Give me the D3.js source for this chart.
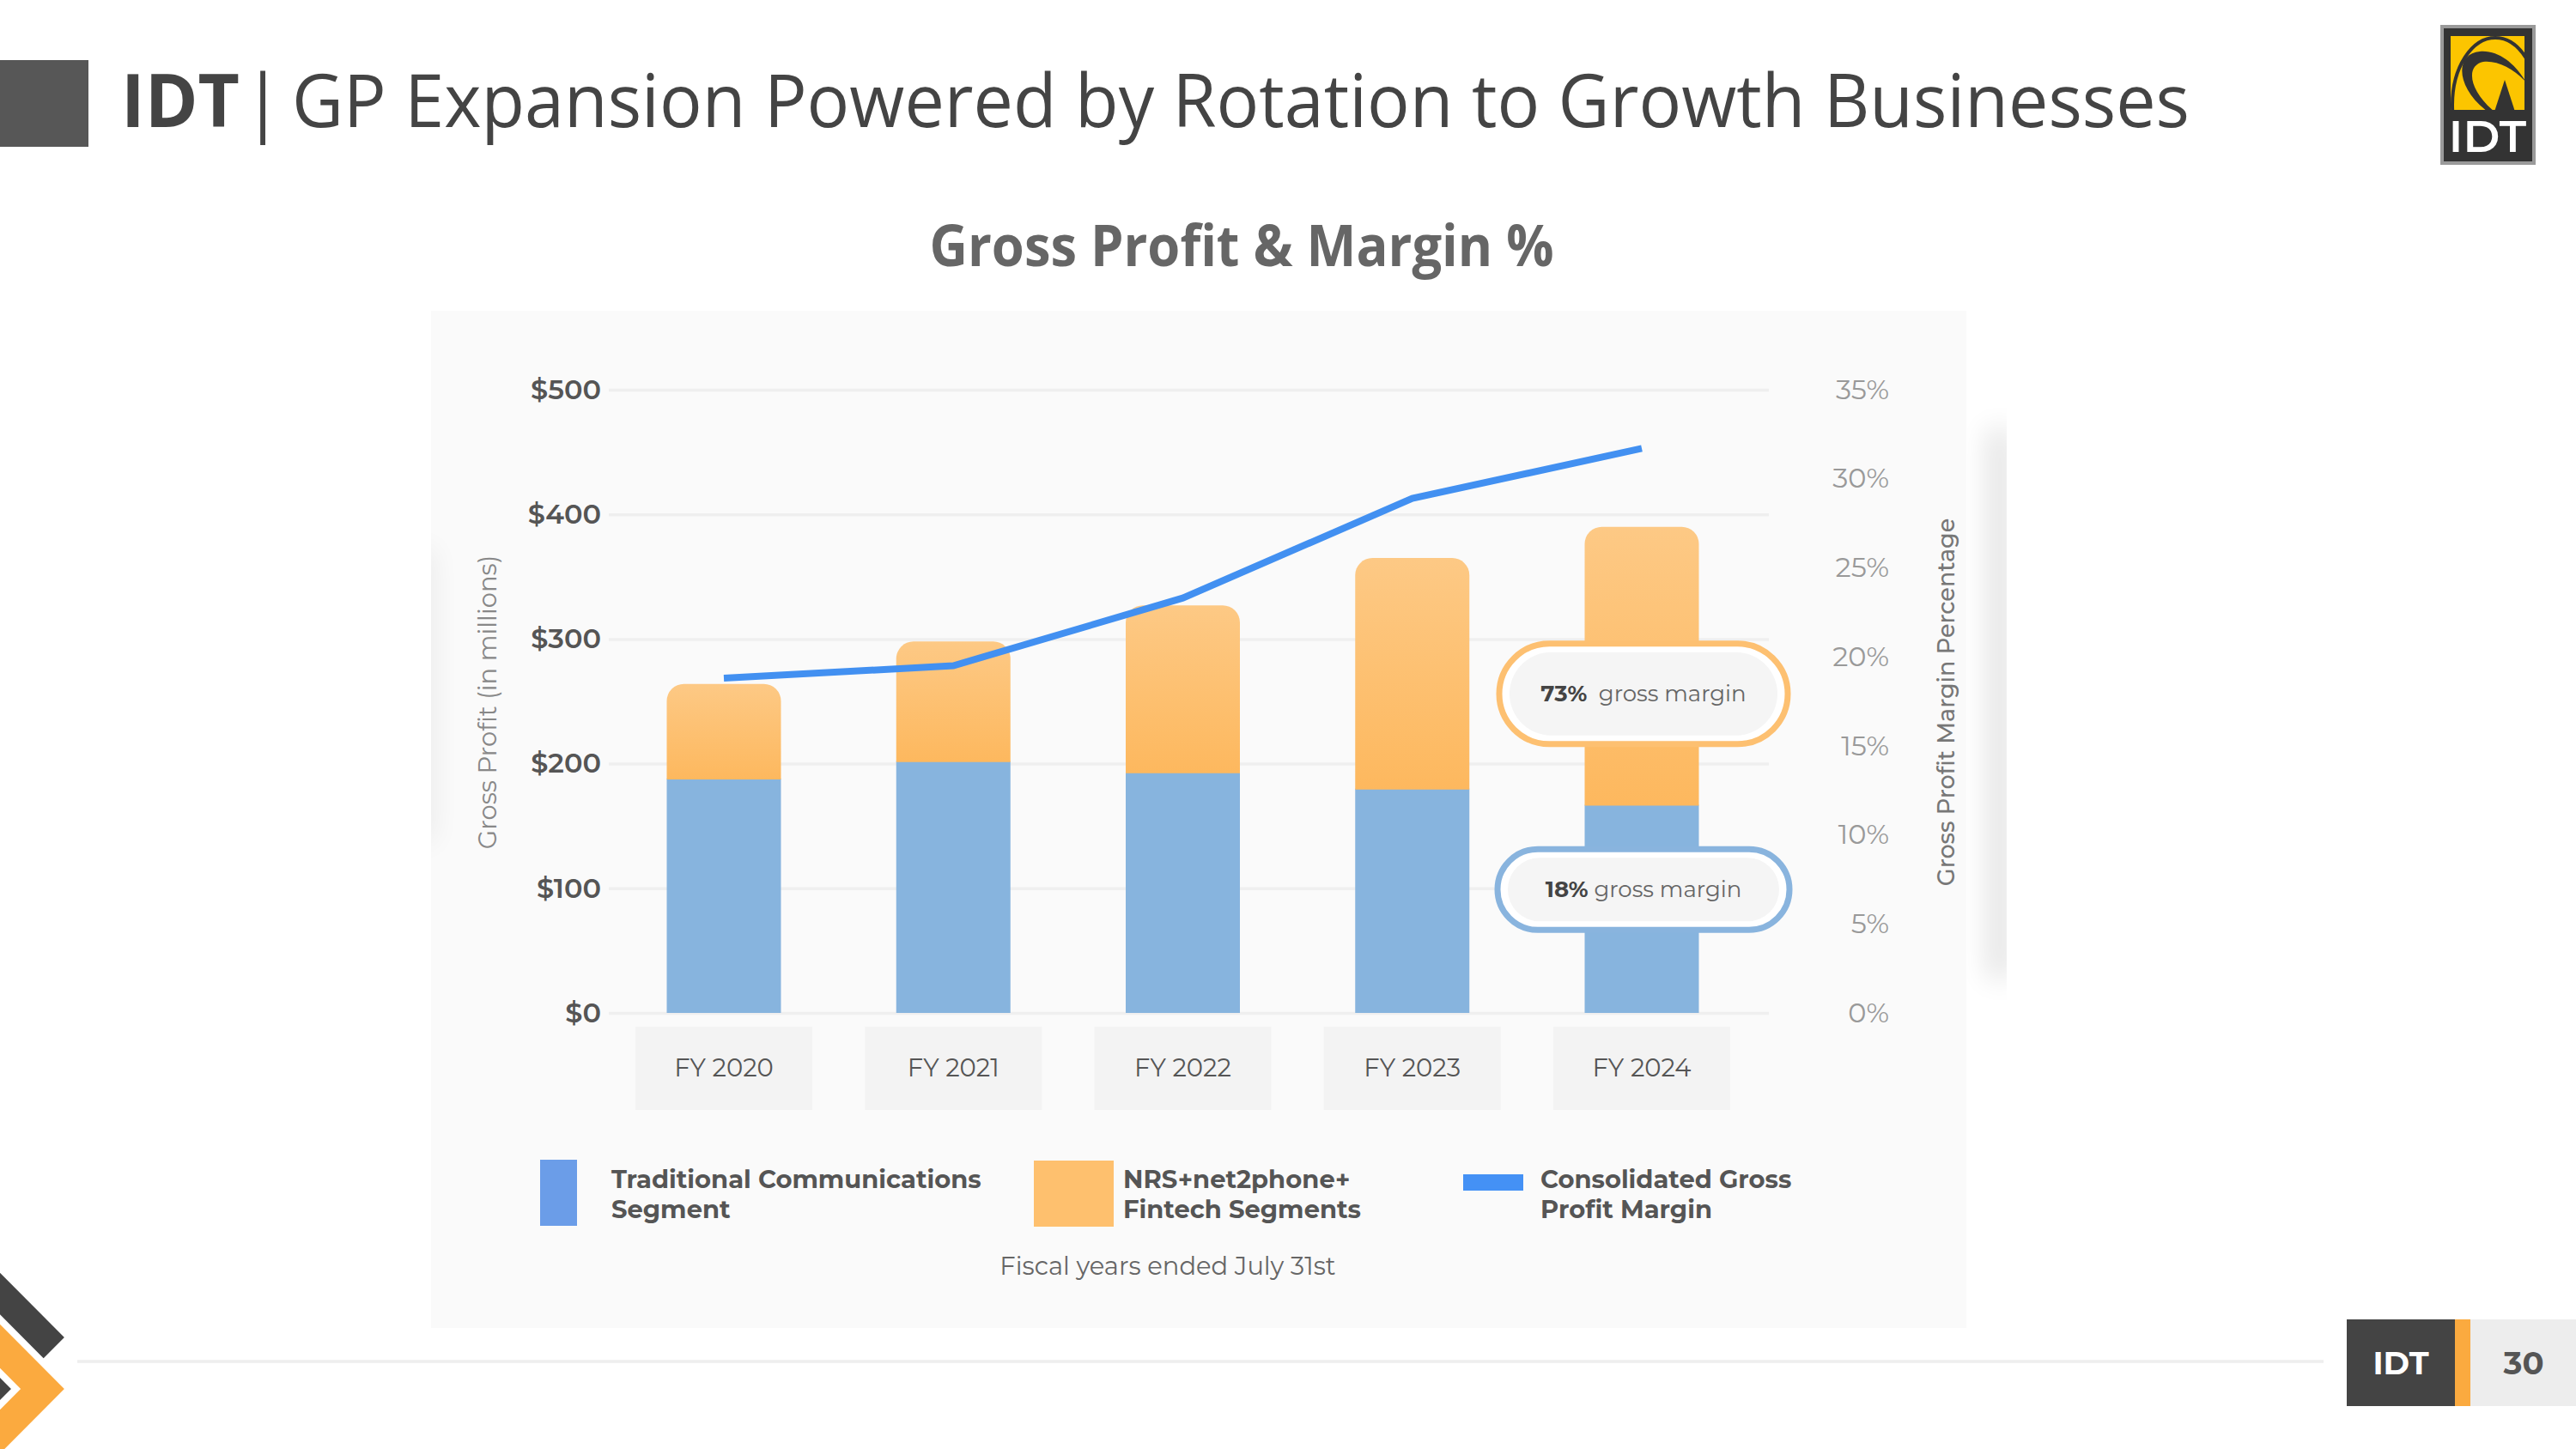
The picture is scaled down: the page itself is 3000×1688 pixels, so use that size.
<!DOCTYPE html>
<html>
<head>
<meta charset="utf-8">
<script src="https://cdn.jsdelivr.net/npm/d3@7"></script>
<style>
  body { margin: 0; background: #fff; }
  svg { display: block; }
</style>
</head>
<body>
<svg id="slide"></svg>
<script>
// chart data
const years = ["FY 2020", "FY 2021", "FY 2022", "FY 2023", "FY 2024"];
const traditionalGP = [188, 202, 193, 180, 167];   // $M, blue part
const growthGP = [76, 96, 134, 185, 223];          // $M, orange part on top
const marginPct = [18.8, 19.5, 23.3, 28.9, 31.7];  // consolidated GP margin %
const gpTicks = [0, 100, 200, 300, 400, 500];
const pctTicks = [0, 5, 10, 15, 20, 25, 30, 35];
const seriesNames = [
  ["Traditional Communications", "Segment"],
  ["NRS+net2phone+", "Fintech Segments"],
  ["Consolidated Gross", "Profit Margin"]
];
const calloutText = [["73%", "gross margin"], ["18%", "gross margin"]];
const calloutAt = [256, 99];   // where the callouts sit on the $ axis

const W = 3000, H = 1688;
const font = "Montserrat, 'Noto Sans', 'Open Sans', sans-serif";
const titleFont = "'Open Sans', 'Noto Sans', sans-serif";

const svg = d3.select("#slide").attr("width", W).attr("height", H);
const defs = svg.append("defs");

// orange gradient for the growth bars
let grad = defs.append("linearGradient").attr("id", "orangeGrad")
  .attr("x1", 0).attr("y1", 0).attr("x2", 0).attr("y2", 1);
grad.append("stop").attr("offset", "0%").attr("stop-color", "#fdc985");
grad.append("stop").attr("offset", "100%").attr("stop-color", "#fdb85e");

defs.append("filter").attr("id", "blur").attr("x", "-100%").attr("y", "-50%")
  .attr("width", "300%").attr("height", "200%")
  .append("feGaussianBlur").attr("stdDeviation", 16);

defs.append("clipPath").attr("id", "logoClip")
  .append("rect").attr("x", 2854).attr("y", 42).attr("width", 86).attr("height", 86);

// ---------- slide header ----------
svg.append("rect").attr("x", 0).attr("y", 70).attr("width", 103).attr("height", 101).attr("fill", "#575757");

svg.append("text").attr("x", 141).attr("y", 148)
  .attr("font-family", titleFont).attr("font-size", 86).attr("font-weight", 700).attr("fill", "#444")
  .attr("textLength", 138).attr("lengthAdjust", "spacingAndGlyphs").text("IDT");
svg.append("text").attr("x", 306).attr("y", 148).attr("text-anchor", "middle")
  .attr("font-family", titleFont).attr("font-size", 86).attr("font-weight", 400).attr("fill", "#444")
  .text("|");
svg.append("text").attr("x", 340).attr("y", 148)
  .attr("font-family", titleFont).attr("font-size", 86).attr("font-weight", 400).attr("fill", "#444")
  .attr("textLength", 2210).attr("lengthAdjust", "spacingAndGlyphs")
  .text("GP Expansion Powered by Rotation to Growth Businesses");

// logo
let logo = svg.append("g");
logo.append("rect").attr("x", 2842).attr("y", 29).attr("width", 111).attr("height", 163).attr("fill", "#9a9a9a");
logo.append("rect").attr("x", 2846).attr("y", 33).attr("width", 103).attr("height", 155).attr("fill", "#333");
logo.append("rect").attr("x", 2854).attr("y", 42).attr("width", 86).attr("height", 86).attr("fill", "#fcc500");
let swoosh = logo.append("g").attr("clip-path", "url(#logoClip)");
swoosh.append("ellipse").attr("cx", 2906).attr("cy", 122).attr("rx", 50).attr("ry", 78)
  .attr("fill", "none").attr("stroke", "#333").attr("stroke-width", 4);
swoosh.append("path").attr("d", "M2897,130 C2858,100 2860,62 2888,60 C2910,58 2930,75 2942,96 C2928,80 2908,70 2892,72 C2872,76 2874,104 2905,130 Z")
  .attr("fill", "#333");
swoosh.append("path").attr("d", "M2905,130 L2917,93 L2929,130 Z").attr("fill", "#333");
logo.append("text").attr("x", 2897).attr("y", 177).attr("text-anchor", "middle")
  .attr("font-family", font).attr("font-weight", 600).attr("font-size", 52).attr("fill", "#fff").text("IDT");

// subtitle
svg.append("text").attr("x", 1446).attr("y", 310).attr("text-anchor", "middle")
  .attr("font-family", titleFont).attr("font-weight", 700).attr("font-size", 66).attr("fill", "#666")
  .attr("textLength", 727).attr("lengthAdjust", "spacingAndGlyphs")
  .text("Gross Profit & Margin %");

// ---------- chart panel ----------
// soft shadow right of the panel, cast by a white card
svg.append("rect").attr("x", 2314).attr("y", 500).attr("width", 30).attr("height", 640)
  .attr("fill", "#000").attr("opacity", 0.11).attr("filter", "url(#blur)");
svg.append("rect").attr("x", 2337).attr("y", 380).attr("width", 300).attr("height", 900).attr("fill", "#fff");
svg.append("rect").attr("x", 502).attr("y", 362).attr("width", 1788).attr("height", 1185).attr("fill", "#fafafa");
// faint shadow inside the left edge
svg.append("rect").attr("x", 478).attr("y", 640).attr("width", 26).attr("height", 340)
  .attr("fill", "#000").attr("opacity", 0.07).attr("filter", "url(#blur)");
svg.append("rect").attr("x", 380).attr("y", 500).attr("width", 122).attr("height", 620).attr("fill", "#fff");

const y = d3.scaleLinear().domain([0, 500]).range([1180, 454]);
const yPct = d3.scaleLinear().domain([0, 35]).range([1180, 454]);
const x = d3.scalePoint().domain(years).range([843, 1912]);
const barW = 133;
const gridLeft = 709, gridRight = 2060;

// left axis with gridlines
let leftAxis = svg.append("g").attr("transform", `translate(${gridLeft},0)`)
  .call(d3.axisLeft(y).tickValues(gpTicks).tickSize(-(gridRight - gridLeft)).tickPadding(9)
    .tickFormat(d => "$" + d));
leftAxis.select(".domain").remove();
leftAxis.selectAll("line").attr("stroke", "#efefef").attr("stroke-width", 3.5);
leftAxis.selectAll("text").attr("font-family", font).attr("font-weight", 600)
  .attr("font-size", 32).attr("fill", "#555");

// right axis (percent)
let rightAxis = svg.append("g").attr("transform", "translate(2200,0)")
  .call(d3.axisRight(yPct).tickValues(pctTicks).tickSize(0).tickFormat(d => d + "%"));
rightAxis.select(".domain").remove();
rightAxis.selectAll("text").attr("x", 0).attr("text-anchor", "end")
  .attr("font-family", font).attr("font-size", 32).attr("fill", "#999");

// axis titles
svg.append("text").attr("transform", "translate(578,818) rotate(-90)").attr("text-anchor", "middle")
  .attr("font-family", font).attr("font-size", 29).attr("fill", "#888").text("Gross Profit (in millions)");
svg.append("text").attr("transform", "translate(2276,818) rotate(-90)").attr("text-anchor", "middle")
  .attr("font-family", font).attr("font-weight", 500).attr("font-size", 27).attr("fill", "#777")
  .text("Gross Profit Margin Percentage");

// bars
const rows = years.map((yr, i) => ({ yr, trad: traditionalGP[i], growth: growthGP[i], pct: marginPct[i] }));

svg.append("g").selectAll("rect").data(rows).enter().append("rect")
  .attr("x", d => x(d.yr) - barW / 2)
  .attr("y", d => y(d.trad))
  .attr("width", barW)
  .attr("height", d => y(0) - y(d.trad))
  .attr("fill", "#87b4de");

function roundTop(x0, y0, w, h, r) {
  let p = d3.path();
  p.moveTo(x0, y0 + h);
  p.lineTo(x0, y0 + r);
  p.arcTo(x0, y0, x0 + r, y0, r);
  p.lineTo(x0 + w - r, y0);
  p.arcTo(x0 + w, y0, x0 + w, y0 + r, r);
  p.lineTo(x0 + w, y0 + h);
  p.closePath();
  return p.toString();
}

svg.append("g").selectAll("path").data(rows).enter().append("path")
  .attr("d", d => roundTop(x(d.yr) - barW / 2, y(d.trad + d.growth), barW,
    y(d.trad) - y(d.trad + d.growth) + 1, 20))
  .attr("fill", "url(#orangeGrad)");

// margin line
svg.append("path").datum(rows)
  .attr("d", d3.line().x(d => x(d.yr)).y(d => yPct(d.pct)))
  .attr("fill", "none").attr("stroke", "#4290f1").attr("stroke-width", 8);

// year label boxes
let labels = svg.append("g").selectAll("g").data(years).enter().append("g")
  .attr("transform", d => `translate(${x(d)},0)`);
labels.append("rect").attr("x", -103).attr("y", 1196).attr("width", 206).attr("height", 97).attr("fill", "#f3f3f3");
labels.append("text").attr("y", 1254).attr("text-anchor", "middle")
  .attr("font-family", font).attr("font-size", 29).attr("fill", "#555").text(d => d);

// callouts on the FY2024 bar
const pills = [
  { text: calloutText[0], v: calloutAt[0], w: 336, h: 117, stroke: "#fdc071", gap: "\u00a0\u00a0" },
  { text: calloutText[1], v: calloutAt[1], w: 340, h: 94, stroke: "#89b4de", gap: " " }
];
let pill = svg.append("g").selectAll("g").data(pills).enter().append("g")
  .attr("transform", d => `translate(${x("FY 2024") + 2},${y(d.v)})`);
pill.append("rect").attr("x", d => -d.w / 2).attr("y", d => -d.h / 2)
  .attr("width", d => d.w).attr("height", d => d.h).attr("rx", d => d.h / 2)
  .attr("fill", "#fff").attr("stroke", d => d.stroke).attr("stroke-width", 7);
pill.append("rect").attr("x", d => -d.w / 2 + 12).attr("y", d => -d.h / 2 + 10)
  .attr("width", d => d.w - 24).attr("height", d => d.h - 20).attr("rx", d => (d.h - 20) / 2)
  .attr("fill", "#f5f5f5");
let pt = pill.append("text").attr("y", 9).attr("text-anchor", "middle")
  .attr("font-family", font).attr("font-size", 26);
pt.append("tspan").attr("font-weight", 700).attr("fill", "#444").text(d => d.text[0]);
pt.append("tspan").attr("fill", "#666").text(d => d.gap + d.text[1]);

// legend
const legendItems = [
  { name: seriesNames[0], color: "#6b9de8", sx: 629, sy: 1351, sw: 43, sh: 77, tx: 712 },
  { name: seriesNames[1], color: "#fec06e", sx: 1204, sy: 1352, sw: 93, sh: 77, tx: 1308 },
  { name: seriesNames[2], color: "#4491f5", sx: 1704, sy: 1368, sw: 70, sh: 19, tx: 1794 }
];
let leg = svg.append("g").selectAll("g").data(legendItems).enter().append("g");
leg.append("rect").attr("x", d => d.sx).attr("y", d => d.sy).attr("width", d => d.sw)
  .attr("height", d => d.sh).attr("fill", d => d.color);
let lt = leg.append("text").attr("font-family", font).attr("font-weight", 700)
  .attr("font-size", 29).attr("fill", "#555");
lt.append("tspan").attr("x", d => d.tx).attr("y", 1384).text(d => d.name[0]);
lt.append("tspan").attr("x", d => d.tx).attr("y", 1419).text(d => d.name[1]);

svg.append("text").attr("x", 1360).attr("y", 1485).attr("text-anchor", "middle")
  .attr("font-family", font).attr("font-size", 29).attr("fill", "#666")
  .text("Fiscal years ended July 31st");

// ---------- footer ----------
svg.append("line").attr("x1", 90).attr("x2", 2706).attr("y1", 1586).attr("y2", 1586)
  .attr("stroke", "#eeeeee").attr("stroke-width", 3.5);

function chevron(cy) {
  return `M-40,${cy - 90} L49.5,${cy} L-40,${cy + 90}`;
}
svg.append("path").attr("d", chevron(1558)).attr("fill", "none")
  .attr("stroke", "#444").attr("stroke-width", 36).attr("stroke-linejoin", "miter");
svg.append("path").attr("d", chevron(1618)).attr("fill", "none")
  .attr("stroke", "#fff").attr("stroke-width", 52).attr("stroke-linejoin", "miter");
svg.append("path").attr("d", chevron(1618)).attr("fill", "none")
  .attr("stroke", "#fbaa3f").attr("stroke-width", 36).attr("stroke-linejoin", "miter");

svg.append("rect").attr("x", 2733).attr("y", 1537).attr("width", 126).attr("height", 101).attr("fill", "#444");
svg.append("rect").attr("x", 2859).attr("y", 1537).attr("width", 18).attr("height", 101).attr("fill", "#fbaa3f");
svg.append("rect").attr("x", 2877).attr("y", 1537).attr("width", 123).attr("height", 101).attr("fill", "#ededed");
svg.append("text").attr("x", 2796).attr("y", 1601).attr("text-anchor", "middle")
  .attr("font-family", font).attr("font-weight", 700).attr("font-size", 37).attr("fill", "#fff").text("IDT");
svg.append("text").attr("x", 2939).attr("y", 1601).attr("text-anchor", "middle")
  .attr("font-family", font).attr("font-weight", 700).attr("font-size", 37).attr("fill", "#555").text("30");
</script>
</body>
</html>
